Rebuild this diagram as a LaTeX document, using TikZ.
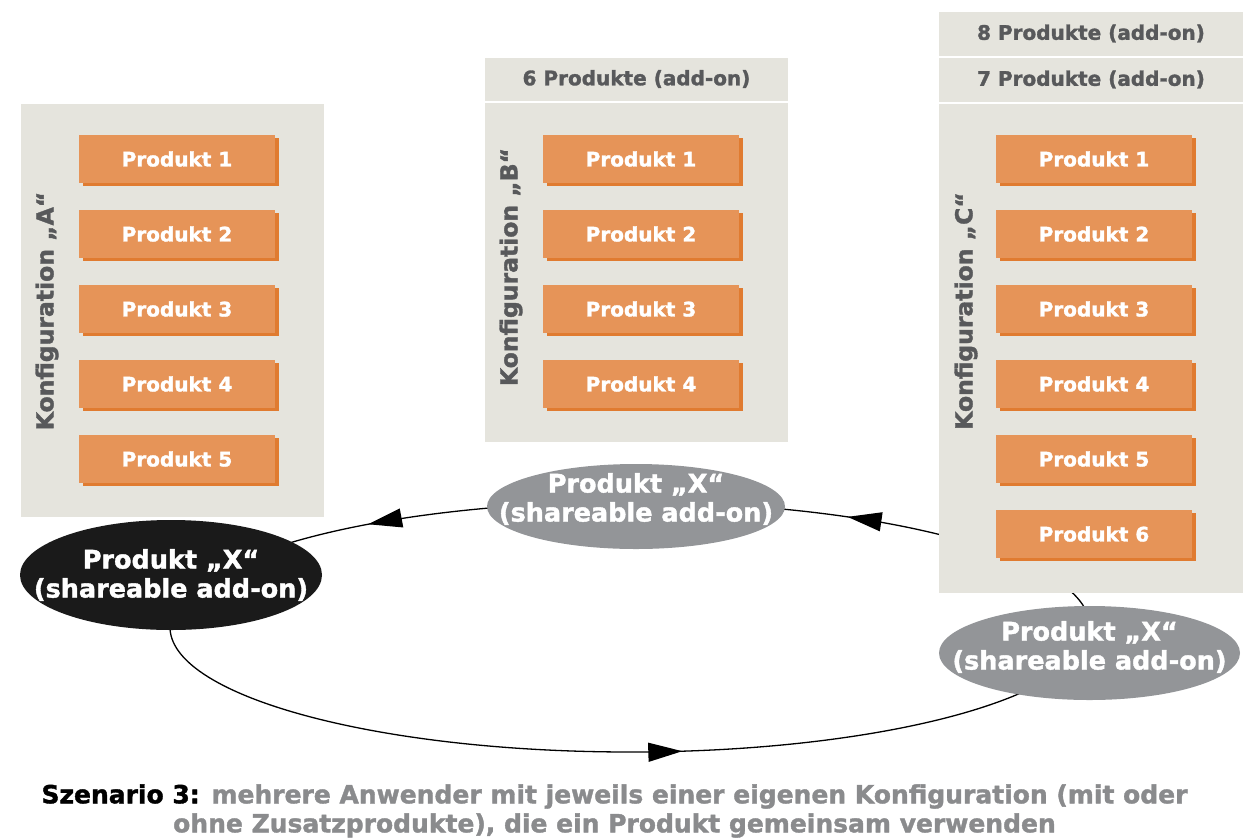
\documentclass[tikz,border=0pt]{standalone}
\usepackage{fontspec}
\setmainfont{DejaVu Sans}
\newfontfamily\hv[UprightFont={* Bold},FakeBold=1.5]{DejaVu Sans}
\usetikzlibrary{calc,decorations.markings,arrows.meta,shapes.geometric,shadows}
\definecolor{cfg}{HTML}{E5E4DD}
\definecolor{prod}{HTML}{E69458}
\definecolor{prodsh}{HTML}{E07B30}
\definecolor{xgray}{HTML}{939598}
\definecolor{xblack}{HTML}{1A1A1A}
\definecolor{txtgray}{HTML}{58595B}
\definecolor{capgray}{HTML}{8A8B8D}
\begin{document}
\begin{tikzpicture}[x=1pt,y=-1pt,
  cfgbox/.style={fill=cfg,draw=none},
  sepline/.style={draw=white,line width=1.8pt},
  prodbox/.style={fill=prod,draw=none,minimum width=196pt,minimum height=48pt,inner sep=0pt,
     text=white,font=\hv\fontsize{20}{22}\selectfont,
     drop shadow={shadow xshift=4pt,shadow yshift=-3pt,fill=prodsh,opacity=1}},
  hdr/.style={text=txtgray,font=\hv\fontsize{20}{22}\selectfont,inner sep=0pt},
  cfglabel/.style={text=txtgray,font=\hv\fontsize{23.5}{24}\selectfont,rotate=90,inner sep=0pt},
  xshape/.style={ellipse,draw=none,inner sep=0pt},
  xtext/.style={inner sep=0pt,text=white,align=center,font=\hv\fontsize{25.5}{29}\selectfont},
  loopline/.style={draw=black,line width=1.3pt},
  arrowpos/.style={postaction={decorate},decoration={markings,
     mark=at position #1 with {\arrow{Triangle[length=34pt,width=19pt]}}}}
]
\useasboundingbox (0,0) rectangle (1245,839);

% loop connectors (drawn first, behind boxes and ellipses)
\coordinate (lc) at (630,627);
\coordinate (sB) at ($(lc)+(265:460 and 125)$);
\coordinate (sC) at ($(lc)+(352:460 and 125)$);
\coordinate (sA) at ($(lc)+(182:460 and 125)$);
\draw[loopline,arrowpos=0.61] (sB) arc[start angle=265,end angle=210,x radius=460,y radius=125];
\draw[loopline,arrowpos=0.654] (sC) arc[start angle=352,end angle=280,x radius=460,y radius=125];
\draw[loopline,arrowpos=0.597] (sA) arc[start angle=182,end angle=25,x radius=460,y radius=125];

% configuration A
\path[cfgbox] (21,104) rectangle (324,517);
\node[cfglabel] (labA) at (47,311) {Konfiguration „A“};
\foreach \i in {1,...,5}{
  \node[prodbox] (a\i) at (177,{159+75*(\i-1)}) {Produkt \i};
}

% configuration B
\path[cfgbox] (485,58) rectangle (788,442);
\draw[sepline] (485,102) -- (788,102);
\node[hdr] (hB6) at (636.5,79) {6 Produkte (add-on)};
\node[cfglabel] (labB) at (511,267) {Konfiguration „B“};
\foreach \i in {1,...,4}{
  \node[prodbox] (b\i) at (641,{159+75*(\i-1)}) {Produkt \i};
}

% configuration C
\path[cfgbox] (939,12) rectangle (1243,593);
\draw[sepline] (939,57) -- (1243,57);
\draw[sepline] (939,103) -- (1243,103);
\node[hdr] (hC8) at (1091,33.5) {8 Produkte (add-on)};
\node[hdr] (hC7) at (1091,79.5) {7 Produkte (add-on)};
\node[cfglabel] (labC) at (966,311) {Konfiguration „C“};
\foreach \i in {1,...,6}{
  \node[prodbox] (c\i) at (1094,{159+75*(\i-1)}) {Produkt \i};
}

% shared product X
\node[xshape,fill=xblack,minimum width=302pt,minimum height=110pt] (xA) at (171,575) {};
\node[xtext] (xAt) at (171,575) {Produkt „X“\\(shareable add-on)};
\node[xshape,fill=xgray,minimum width=298pt,minimum height=85pt] (xB) at (636,506.5) {};
\node[xtext] (xBt) at (636,499) {Produkt „X“\\(shareable add-on)};
\node[xshape,fill=xgray,minimum width=301pt,minimum height=94pt] (xC) at (1089.5,653) {};
\node[xtext] (xCt) at (1089.5,647) {Produkt „X“\\(shareable add-on)};

% caption
\node[align=center,inner sep=0pt,font=\hv\fontsize{25}{29}\selectfont,text=capgray] (cap) at (614.5,811)
  {\textcolor{black}{Szenario 3:} mehrere Anwender mit jeweils einer eigenen Konfiguration (mit oder\\
   ohne Zusatzprodukte), die ein Produkt gemeinsam verwenden};
\end{tikzpicture}
\end{document}
